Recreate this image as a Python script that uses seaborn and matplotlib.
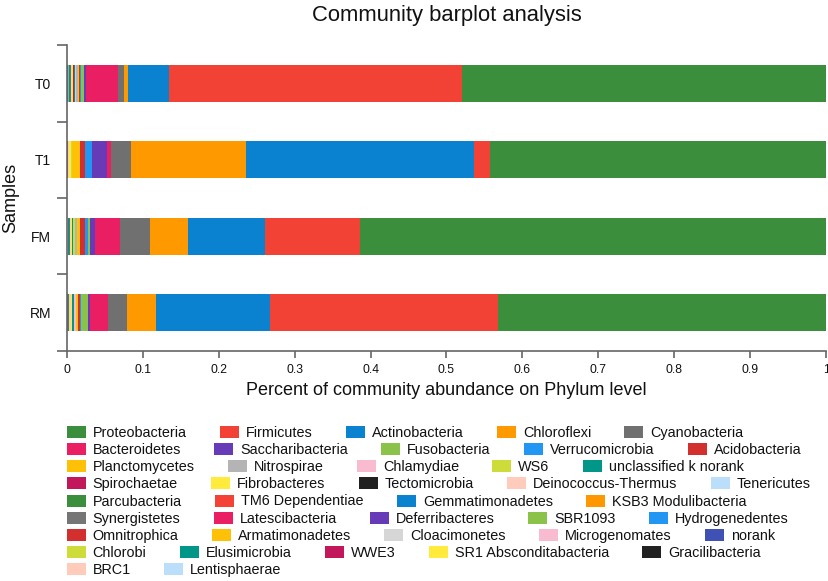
import matplotlib
matplotlib.use('Agg')
import numpy as np
import pandas as pd
import seaborn as sns
import matplotlib.pyplot as plt
from matplotlib.patches import Patch

sns.set_style('white')
plt.rcParams['font.family'] = ['Liberation Sans', 'DejaVu Sans']
plt.rcParams['text.color'] = '#111111'
plt.rcParams['axes.labelcolor'] = '#111111'
plt.rcParams['xtick.labelcolor'] = '#111111'
plt.rcParams['ytick.labelcolor'] = '#111111'

# samples (top to bottom) and phyla in legend order
samples = ['T0', 'T1', 'FM', 'RM']
phyla = ['Proteobacteria', 'Firmicutes', 'Actinobacteria', 'Chloroflexi', 'Cyanobacteria',
         'Bacteroidetes', 'Saccharibacteria', 'Fusobacteria', 'Verrucomicrobia', 'Acidobacteria',
         'Planctomycetes', 'Nitrospirae', 'Chlamydiae', 'WS6', 'unclassified k norank',
         'Spirochaetae', 'Fibrobacteres', 'Tectomicrobia', 'Deinococcus-Thermus', 'Tenericutes',
         'Parcubacteria', 'TM6 Dependentiae', 'Gemmatimonadetes', 'KSB3 Modulibacteria',
         'Synergistetes', 'Latescibacteria', 'Deferribacteres', 'SBR1093', 'Hydrogenedentes',
         'Omnitrophica', 'Armatimonadetes', 'Cloacimonetes', 'Microgenomates', 'norank',
         'Chlorobi', 'Elusimicrobia', 'WWE3', 'SR1 Absconditabacteria', 'Gracilibacteria',
         'BRC1', 'Lentisphaerae']
colors = ['#3a8e3c', '#f24236', '#0a82cf', '#ff9900', '#707070',
          '#e91e63', '#673ab7', '#8bc34a', '#2196f3', '#d32f2f',
          '#ffc107', '#b4b4b4', '#f8bbd0', '#cddc39', '#009688',
          '#c2185b', '#ffeb3b', '#212121', '#ffccbc', '#bbdefb',
          '#3a8e3c', '#f44336', '#0a82cf', '#ff9800',
          '#757575', '#e91e63', '#673ab7', '#8bc34a', '#2196f3',
          '#d32f2f', '#ffc107', '#d6d6d6', '#f8bbd0', '#3f51b5',
          '#cddc39', '#009688', '#c2185b', '#ffeb3b', '#212121',
          '#ffccbc', '#bbdefb']

t0 = [0.480, 0.3856, 0.0549, 0.0053, 0.0070,
      0.0431, 0.0026, 0.0030, 0.0018, 0.0012,
      0.0020, 0.0015, 0.0015, 0.0008, 0.0015,
      0.0012, 0.0004, 0.0003, 0.0010, 0.0006,
      0.0008, 0.0004, 0.0006, 0.0003,
      0.0004, 0.0003, 0.0002, 0.0003, 0.0002,
      0.0002, 0.0003, 0.0002, 0.0002, 0.0001,
      0.0002, 0.0001, 0.0001, 0.0001, 0.0001,
      0.0, 0.0]
t1 = [0.443, 0.021, 0.301, 0.151, 0.0263,
      0.0057, 0.0198, 0.0003, 0.0088, 0.0066,
      0.0100, 0.0004, 0.0004, 0.0008, 0.0003,
      0.0003, 0.0025, 0.0001, 0.0008, 0.0003,
      0.0001, 0.0001, 0.0001, 0.0001,
      0.0001, 0.0001, 0.0001, 0.0001, 0.0,
      0.0001, 0.0001, 0.0, 0.0001, 0.0,
      0.0001, 0.0, 0.0, 0.0, 0.0,
      0.0, 0.0]
fm = [0.614, 0.125, 0.101, 0.050, 0.0398,
      0.0325, 0.0066, 0.0030, 0.0040, 0.0065,
      0.0035, 0.0025, 0.0008, 0.0020, 0.0015,
      0.0006, 0.0008, 0.0003, 0.0006, 0.0004,
      0.0010, 0.0003, 0.0012, 0.0001,
      0.0001, 0.0001, 0.0001, 0.0001, 0.0001,
      0.0001, 0.0001, 0.0001, 0.0001, 0.0001,
      0.0001, 0.0001, 0.0001, 0.0001, 0.0001,
      0.0, 0.0]
rm = [0.432, 0.301, 0.1497, 0.0378, 0.0255,
      0.0242, 0.0022, 0.0087, 0.0015, 0.0030,
      0.0020, 0.0010, 0.0015, 0.0008, 0.0025,
      0.0006, 0.0004, 0.0002, 0.0030, 0.0004,
      0.0001, 0.0001, 0.0001, 0.0001,
      0.0001, 0.0001, 0.0001, 0.0001, 0.0001,
      0.0001, 0.0001, 0.0001, 0.0001, 0.0001,
      0.0001, 0.0001, 0.0001, 0.0001, 0.0001,
      0.0001, 0.0]

df = pd.DataFrame([t0, t1, fm, rm], index=samples, columns=phyla)
df = df.div(df.sum(axis=1), axis=0)
# stacked from the left with the last legend entry, Proteobacteria ends at 1
cum = df[phyla[::-1]].cumsum(axis=1)

fig = plt.figure(figsize=(8.29, 5.81), dpi=100)
ax = fig.add_axes([0.0808, 0.3959, 0.9156, 0.5266])

for name, col in zip(phyla, colors):
    d = pd.DataFrame({'sample': samples, 'value': cum[name].values})
    sns.barplot(data=d, x='value', y='sample', order=samples, color=col,
                saturation=1, width=0.48, orient='h', linewidth=0,
                errorbar=None, ax=ax)

ax.set_xlim(0, 1)
ax.set_ylim(3.5, -0.5)
xt = np.arange(0, 1.01, 0.1)
ax.set_xticks(xt, [f'{v:g}' for v in xt])
ax.set_yticks(range(len(samples)), samples)
ax.set_yticks(np.arange(-0.5, len(samples), 1), minor=True)
ax.tick_params(axis='y', which='major', length=0, pad=11.5, labelsize=10)
ax.tick_params(axis='y', which='minor', length=7, width=1.2, color='#666666', left=True)
ax.tick_params(axis='x', which='major', length=5, width=1.2, color='#666666',
               bottom=True, pad=4.5, labelsize=8.7)
for s in ['top', 'right']:
    ax.spines[s].set_visible(False)
for s in ['left', 'bottom']:
    ax.spines[s].set_color('#666666')
    ax.spines[s].set_linewidth(1.2)

ax.set_xlabel('Percent of community abundance on Phylum level', fontsize=13)
ax.set_ylabel('Samples', fontsize=13)
ax.xaxis.set_label_coords(0.5, -0.1)
ax.yaxis.set_label_coords(-0.063, 0.5)
fig.text(446.5 / 829, 1 - 15 / 581, 'Community barplot analysis',
         ha='center', va='center', fontsize=15.8)

# legend laid out row by row like the original
handles = [Patch(facecolor=c, edgecolor='none') for c in colors]
row_sizes = [5, 5, 5, 5, 4, 5, 5, 5, 2]
start = 0
for r, n in enumerate(row_sizes):
    y = 432.7 + 17.2 * r
    fig.legend(handles[start:start + n], phyla[start:start + n],
               loc='center left', bbox_to_anchor=(66.7 / 829, 1 - y / 581),
               ncol=n, frameon=False, fontsize=10.4, handlelength=1.32,
               handleheight=0.9, handletextpad=0.48, columnspacing=2.3,
               borderpad=0, borderaxespad=0)
    start += n

fig.savefig('out.png', dpi=100)
